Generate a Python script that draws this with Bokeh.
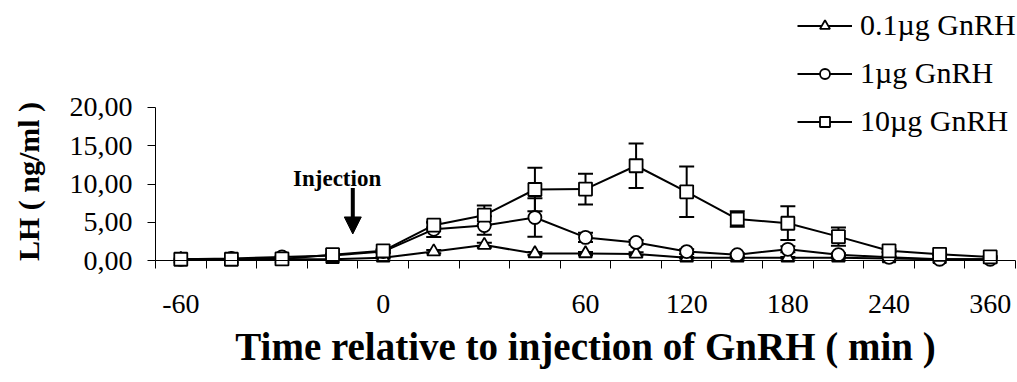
from bokeh.plotting import figure
from bokeh.models import (Range1d, FixedTicker, Whisker, TeeHead, Arrow, NormalHead,
                          Label, ColumnDataSource, Legend, LegendItem)
from bokeh.embed import file_html
from bokeh.resources import INLINE
import math

# ---- data ----
times = [-60, -45, -30, -15, 0, 15, 30, 45, 60, 90, 120, 150, 180, 210, 240, 300, 360]
label_times = [-60, 0, 60, 120, 180, 240, 360]

dose_01 = [0.2, 0.2, 0.2, 0.2, 0.4, 1.2, 2.05, 0.95, 0.95, 0.9, 0.4, 0.4, 0.4, 0.4, 0.3, 0.2, 0.2]
err_01 = [0, 0, 0, 0, 0.1, 0.2, 0.3, 0.2, 0.2, 0.2, 0.1, 0.1, 0.1, 0.1, 0, 0, 0]

dose_1 = [0.2, 0.3, 0.5, 0.7, 1.2, 4.1, 4.6, 5.65, 3.05, 2.4, 1.2, 0.8, 1.5, 0.8, 0.45, 0.2, 0.2]
err_1 = [0, 0, 0, 0, 0.2, 1.0, 1.2, 2.5, 0.6, 0.3, 0.3, 0.2, 0.4, 0.2, 0.1, 0, 0]

dose_10 = [0.2, 0.2, 0.25, 0.8, 1.3, 4.65, 5.95, 9.3, 9.35, 12.4, 9.0, 5.45, 4.9, 3.15, 1.3, 0.85, 0.5]
err_10 = [0, 0, 0, 0.1, 0.2, 0.3, 1.25, 2.85, 2.0, 2.9, 3.3, 1.0, 2.2, 1.2, 0.2, 0.1, 0.1]

series_names = ["0.1\u00b5g GnRH", "1\u00b5g GnRH", "10\u00b5g GnRH"]
y_ticks = [0, 5, 10, 15, 20]

inj_time_pos = 3.4   # between -15 and 0 min (category index)
inj_top, inj_bottom = 9.5, 3.5

FONT = "Liberation Serif"

idx = list(range(len(times)))

W, H = 1017, 382
AX_LEFT_PX, AX_RIGHT_PX = 155, 1015      # plot area in pixels
Y0_PX, Y_PER_UNIT = 260.3, 7.666
cat_px = (AX_RIGHT_PX - AX_LEFT_PX) / len(times)
x_start = -0.5 - AX_LEFT_PX / cat_px
x_end = len(times) - 0.5 + (W - AX_RIGHT_PX) / cat_px
y_start = -(H - Y0_PX) / Y_PER_UNIT
y_end = Y0_PX / Y_PER_UNIT

p = figure(width=W, height=H, output_backend="svg", toolbar_location=None, title=None,
           x_range=Range1d(x_start, x_end), y_range=Range1d(y_start, y_end),
           min_border=0)
p.outline_line_color = None
p.grid.visible = False
p.background_fill_color = "white"
p.border_fill_color = "white"

# x axis
xa = p.xaxis[0]
xa.fixed_location = 0
xa.bounds = (-0.5, len(times) - 0.5)
xa.ticker = FixedTicker(ticks=[times.index(t) for t in label_times],
                        minor_ticks=[i - 0.5 for i in range(len(times) + 1)])
xa.major_label_overrides = {times.index(t): str(t) for t in label_times}
xa.major_tick_line_color = None
xa.major_tick_out = 8
xa.major_tick_in = 0
xa.minor_tick_out = 8
xa.minor_tick_in = 0
xa.minor_tick_line_color = "black"
xa.axis_line_color = "black"
xa.major_label_text_font = FONT
xa.major_label_text_font_size = "28px"
xa.major_label_text_color = "black"
xa.major_label_standoff = 26
xa.axis_label = "Time relative to injection of GnRH ( min )"
xa.axis_label_text_font = FONT
xa.axis_label_text_font_size = "39px"
xa.axis_label_text_font_style = "bold"
xa.axis_label_text_color = "black"
xa.axis_label_standoff = 9

# y axis
ya = p.yaxis[0]
ya.fixed_location = -0.5
ya.bounds = (0, 20)
ya.ticker = FixedTicker(ticks=y_ticks, minor_ticks=[])
ya.major_label_overrides = {t: f"{t},00" for t in y_ticks}
ya.major_tick_out = 8
ya.major_tick_in = 0
ya.axis_line_color = "black"
ya.major_tick_line_color = "black"
ya.major_label_text_font = FONT
ya.major_label_text_font_size = "28px"
ya.major_label_text_color = "black"
ya.major_label_standoff = 15

y_title = Label(x=x_start + 28 / cat_px, y=(Y0_PX - 181) / Y_PER_UNIT, text="LH ( ng/ml )",
                angle=math.pi / 2, text_align="center", text_baseline="middle",
                text_font=FONT, text_font_size="30px", text_font_style="bold",
                text_color="black")
p.add_layout(y_title)

# error bars
def add_err(vals, errs):
    xs = [i for i, e in zip(idx, errs) if e > 0]
    up = [v + e for v, e in zip(vals, errs) if e > 0]
    lo = [v - e for v, e in zip(vals, errs) if e > 0]
    src = ColumnDataSource(dict(x=xs, upper=up, lower=lo))
    w = Whisker(base="x", upper="upper", lower="lower", source=src, dimension="height",
                line_color="black", line_width=2, level="underlay",
                upper_head=TeeHead(size=15, line_width=2, line_color="black"),
                lower_head=TeeHead(size=15, line_width=2, line_color="black"))
    p.add_layout(w)

for vals, errs in [(dose_10, err_10), (dose_1, err_1), (dose_01, err_01)]:
    add_err(vals, errs)

markers = ["triangle", "circle", "square"]
all_vals = [dose_01, dose_1, dose_10]
lines = []
for vals in all_vals:
    lines.append(p.line(idx, vals, line_color="black", line_width=2))
scats = []
for vals, m in zip(all_vals, markers):
    scats.append(p.scatter(idx, vals, marker=m, size=13, fill_color="white",
                           line_color="black", line_width=1.8))

# arrow + text
p.add_layout(Arrow(x_start=inj_time_pos, y_start=inj_top, x_end=inj_time_pos, y_end=inj_bottom,
                   line_width=4, line_color="black",
                   end=NormalHead(size=17, fill_color="black", line_color="black")))
p.add_layout(Label(x=3.09, y=10.7, text="Injection", text_align="center",
                   text_baseline="middle", text_font=FONT, text_font_size="23px",
                   text_font_style="bold", text_color="black"))

legend = Legend(items=[LegendItem(label=n, renderers=[l, s])
                       for n, l, s in zip(series_names, lines, scats)],
                location=(797, H - 141), orientation="vertical",
                glyph_width=55, glyph_height=25, label_height=40, spacing=8,
                label_standoff=8, padding=0, margin=0,
                label_text_font=FONT, label_text_font_size="30px", label_text_color="black",
                background_fill_alpha=0, border_line_color=None)
p.add_layout(legend)

open("out.html", "w").write(file_html(p, INLINE))
